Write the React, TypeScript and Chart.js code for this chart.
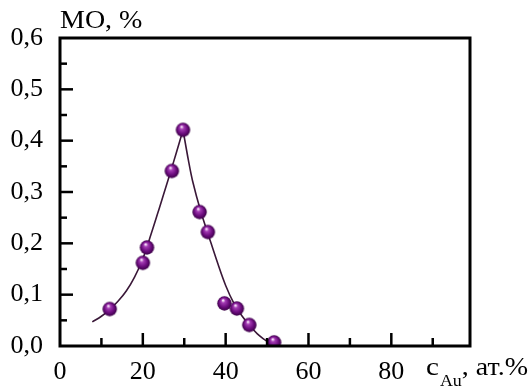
import React, { useEffect, useRef } from "react";
import { Chart, registerables } from "chart.js";

Chart.register(...registerables);

// Measured points (c_Au, at.%  ->  MO, %)
const pointX = [12, 20, 21, 27, 29.7, 33.7, 35.7, 39.7, 42.7, 45.7, 51.7];
const pointY = [0.072, 0.162, 0.192, 0.341, 0.421, 0.261, 0.222, 0.083, 0.073, 0.041, 0.007];

// Fitted curve, left branch (rising) and right branch (falling)
const leftCurveX = [7.8, 10, 12, 14, 16, 18, 20, 22, 24, 26, 28, 29.7];
const leftCurveY = [0.047, 0.058, 0.071, 0.087, 0.107, 0.134, 0.17, 0.218, 0.269, 0.321, 0.374, 0.421];
const rightCurveX = [29.7, 31, 32, 34, 36, 38, 40, 42, 44, 46, 48, 50, 52];
const rightCurveY = [0.421, 0.362, 0.322, 0.262, 0.212, 0.163, 0.118, 0.083, 0.058, 0.038, 0.021, 0.009, 0.002];

const yTicks = [0, 0.1, 0.2, 0.3, 0.4, 0.5, 0.6];
const xTickLabels = [0, 20, 40, 60, 80];

const toXY = (xs: number[], ys: number[]) => xs.map((x, i) => ({ x, y: ys[i] }));

function makeSphere(r: number): HTMLCanvasElement {
  const c = document.createElement("canvas");
  const s = Math.ceil(r * 2 + 2);
  c.width = s;
  c.height = s;
  const ctx = c.getContext("2d")!;
  const cx = s / 2;
  const g = ctx.createRadialGradient(cx - r * 0.2, cx - r * 0.45, r * 0.08, cx, cx, r);
  g.addColorStop(0, "#f6e2f8");
  g.addColorStop(0.22, "#a43cb4");
  g.addColorStop(0.65, "#6c0c7e");
  g.addColorStop(1, "#3a0046");
  ctx.fillStyle = g;
  ctx.beginPath();
  ctx.arc(cx, cx, r, 0, Math.PI * 2);
  ctx.fill();
  return c;
}

const FONT = "'Liberation Serif', 'Times New Roman', serif";

const axesPlugin = {
  id: "customAxes",
  afterDraw(chart: any) {
    const { ctx, chartArea } = chart;
    const xs = chart.scales.x;
    const ys = chart.scales.y;
    const { left, right, top, bottom } = chartArea;
    ctx.save();
    ctx.strokeStyle = "#000";
    ctx.lineWidth = 3;
    ctx.lineCap = "square";
    ctx.beginPath();
    ctx.moveTo(left, top);
    ctx.lineTo(right, top);
    ctx.lineTo(right, bottom);
    ctx.lineTo(left, bottom);
    ctx.closePath();
    ctx.stroke();

    ctx.lineWidth = 2.5;
    ctx.lineCap = "butt";
    // y ticks (inward)
    for (let v = 0.05; v < 0.6; v += 0.05) {
      const isMajor = Math.abs(v * 10 - Math.round(v * 10)) < 1e-6;
      const py = ys.getPixelForValue(v);
      ctx.beginPath();
      ctx.moveTo(left, py);
      ctx.lineTo(left + (isMajor ? 13 : 7), py);
      ctx.stroke();
    }
    // x ticks (inward)
    for (let v = 10; v <= 90; v += 10) {
      const isMajor = v % 20 === 0;
      const px = xs.getPixelForValue(v);
      ctx.beginPath();
      ctx.moveTo(px, bottom);
      ctx.lineTo(px, bottom - (isMajor ? 13 : 8));
      ctx.stroke();
    }

    // axis titles
    ctx.fillStyle = "#000";
    ctx.textBaseline = "alphabetic";
    ctx.textAlign = "left";
    const drawStretched = (text: string, x: number, y: number, size: number) => {
      ctx.save();
      ctx.translate(x, y);
      ctx.scale(1.12, 1);
      ctx.font = `${size}px ${FONT}`;
      ctx.fillText(text, 0, 0);
      const w = ctx.measureText(text).width * 1.12;
      ctx.restore();
      return w;
    };
    drawStretched("MO, %", left, 28, 25);
    let x = 426;
    x += drawStretched("c", x, 375, 26);
    x += drawStretched("Au", x + 1, 386, 16) + 1;
    drawStretched(", ат.%", x, 375, 25);
    ctx.restore();
  },
};

export default function App() {
  const ref = useRef<HTMLCanvasElement>(null);

  useEffect(() => {
    document.body.style.margin = "0";
    const sphere = makeSphere(7.2);
    const chart = new Chart(ref.current!, {
      type: "scatter",
      data: {
        datasets: [
          {
            data: toXY(pointX, pointY),
            pointStyle: sphere as any,
            pointRadius: 7,
            showLine: false,
          },
          {
            data: toXY(leftCurveX, leftCurveY),
            showLine: true,
            pointRadius: 0,
            borderColor: "#3a1838",
            borderWidth: 1.6,
            tension: 0.35,
          },
          {
            data: toXY(rightCurveX, rightCurveY),
            showLine: true,
            pointRadius: 0,
            borderColor: "#3a1838",
            borderWidth: 1.6,
            tension: 0.35,
          },
        ] as any,
      },
      options: {
        animation: false,
        responsive: true,
        maintainAspectRatio: false,
        layout: { padding: { left: 0, top: 38, right: 61, bottom: 0 } },
        plugins: { legend: { display: false }, tooltip: { enabled: false } },
        scales: {
          x: {
            type: "linear",
            min: 0,
            max: 99,
            grid: { display: false, drawTicks: false },
            border: { display: false },
            afterFit: (s: any) => {
              s.height = 42;
            },
            ticks: {
              stepSize: 20,
              includeBounds: false,
              padding: 11,
              color: "#000",
              font: { family: FONT, size: 26 },
              maxRotation: 0,
              callback: (v: any) => (xTickLabels.includes(Number(v)) ? String(v) : ""),
            },
          },
          y: {
            type: "linear",
            min: 0,
            max: 0.6,
            grid: { display: false, drawTicks: false },
            border: { display: false },
            afterFit: (s: any) => {
              s.width = 60;
            },
            afterBuildTicks: (s: any) => {
              s.ticks = yTicks.map((v) => ({ value: v }));
            },
            ticks: {
              padding: 17,
              color: "#000",
              font: { family: FONT, size: 26 },
              callback: (v: any) => Number(v).toFixed(1).replace(".", ","),
            },
          },
        },
      },
      plugins: [axesPlugin],
    });
    return () => chart.destroy();
  }, []);

  return (
    <div style={{ position: "fixed", left: 0, top: 0, width: 531, height: 388, background: "#fff" }}>
      <canvas ref={ref} />
    </div>
  );
}
